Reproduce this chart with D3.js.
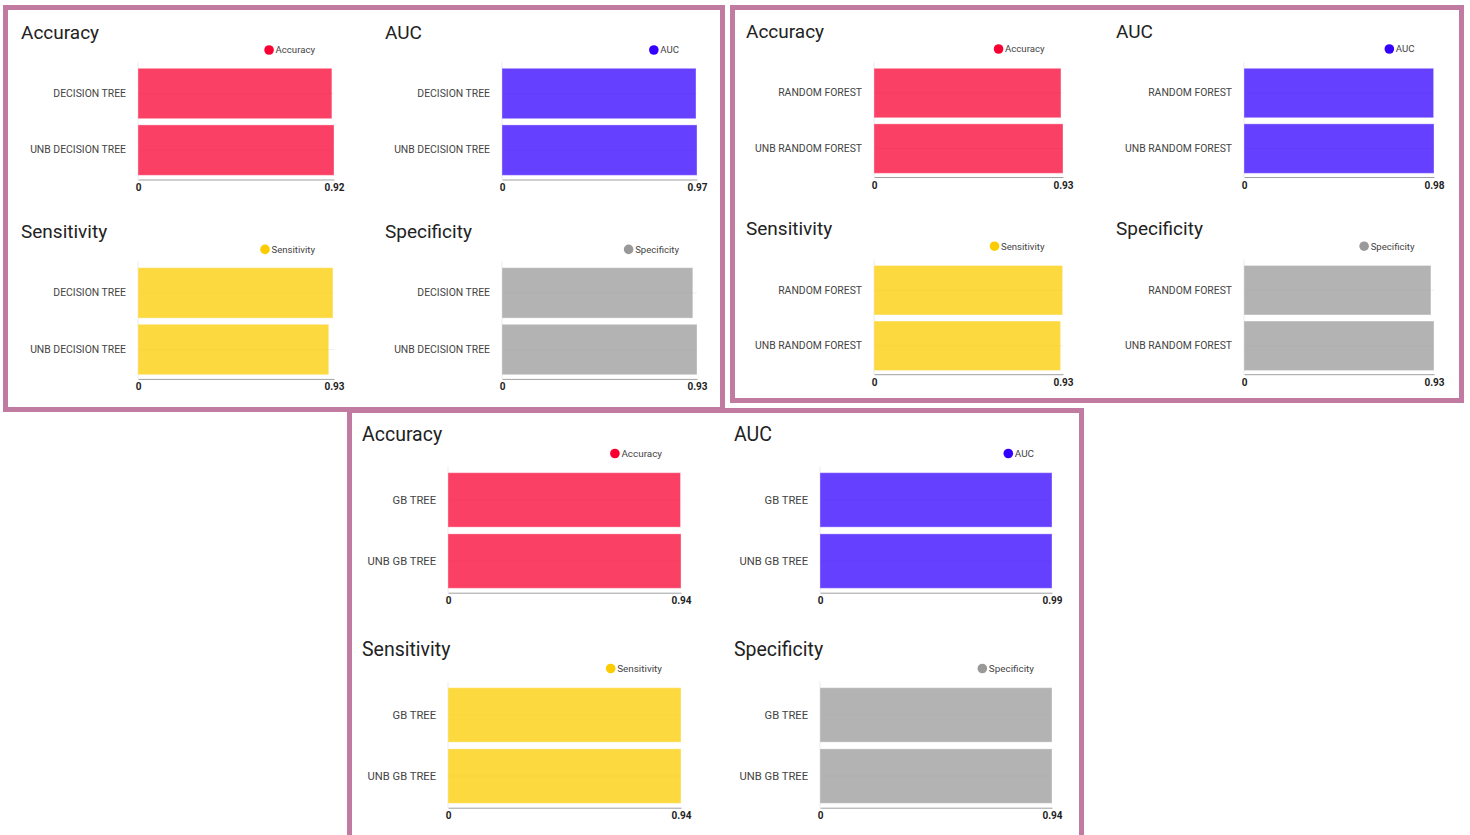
<!DOCTYPE html>
<html>
<head>
<meta charset="utf-8">
<script src="https://cdn.jsdelivr.net/npm/d3@7"></script>
<style>
  html, body { margin: 0; padding: 0; background: #fff; }
  svg { display: block; }
</style>
</head>
<body>
<svg id="chart" width="1470" height="835"></svg>
<script>
// ---- data ----
const metrics = ["Accuracy", "AUC", "Sensitivity", "Specificity"];

const dtModels = ["DECISION TREE", "UNB DECISION TREE"];
const rfModels = ["RANDOM FOREST", "UNB RANDOM FOREST"];
const gbModels = ["GB TREE", "UNB GB TREE"];

// one [base, unbalanced] pair per metric, in the order of `metrics`
const dtScores = [[0.91, 0.92], [0.965, 0.97], [0.925, 0.905], [0.91, 0.93]];
const rfScores = [[0.92, 0.93], [0.978, 0.98], [0.928, 0.918], [0.915, 0.93]];
const gbScores = [[0.938, 0.94], [0.99, 0.99], [0.94, 0.94], [0.94, 0.94]];

// end tick of each metric's value axis
const dtAxisMax = [0.92, 0.97, 0.93, 0.93];
const rfAxisMax = [0.93, 0.98, 0.93, 0.93];
const gbAxisMax = [0.94, 0.99, 0.94, 0.94];

// ---- styles ----
const metricColors = ["#fa0032", "#3300ff", "#fccc00", "#999999"];
const FONT = "Roboto, 'Liberation Sans', Arial, sans-serif";
const FRAME = "#c27ba0";

// ---- layout of the three framed groups ----
const panels = [
  { models: dtModels, scores: dtScores, axisMax: dtAxisMax,
    frame: { x: 3, y: 5, w: 722, h: 407 },
    x0: [138, 502], w: [196, 195], rowDy: 199.4,
    titleDx: -117, titleY: 38.5, legendRight: 177, legendY: 50,
    barTop: 68.3, barBottom: 175.3, axisY: 179.5, tickY: 190.5,
    titleSize: 19, labelSize: 10.4, legendSize: 9.6 },
  { models: rfModels, scores: rfScores, axisMax: rfAxisMax,
    frame: { x: 730, y: 5, w: 734, h: 398 },
    x0: [874, 1244], w: [189, 190], rowDy: 197.2,
    titleDx: -128, titleY: 37.7, legendRight: 170.5, legendY: 49,
    barTop: 68.3, barBottom: 173.3, axisY: 177, tickY: 188.8,
    titleSize: 19, labelSize: 10.4, legendSize: 9.6 },
  { models: gbModels, scores: gbScores, axisMax: gbAxisMax,
    frame: { x: 347, y: 408, w: 737, h: 460 },
    x0: [448, 820], w: [233, 232], rowDy: 215,
    titleDx: -86, titleY: 441, legendRight: 214, legendY: 453.5,
    barTop: 472.7, barBottom: 588.3, axisY: 592.7, tickY: 604.2,
    titleSize: 19.5, labelSize: 11.2, legendSize: 9.9 }
];

const svg = d3.select("#chart").attr("font-family", FONT);

function drawChart(g, p, m) {
  const col = m % 2, row = Math.floor(m / 2);
  const dy = row * p.rowDy;
  const x0 = p.x0[col], x1 = x0 + p.w[col];
  const color = metricColors[m];

  const x = d3.scaleLinear().domain([0, p.axisMax[m]]).range([x0, x1]);
  const y = d3.scaleBand().domain(p.models)
    .range([p.barTop + dy, p.barBottom + dy]).paddingInner(0.11);
  const rows = p.models.map((name, i) => ({ name, value: p.scores[m][i] }));

  // title
  g.append("text")
    .attr("x", x0 + p.titleDx).attr("y", p.titleY + dy)
    .attr("font-size", p.titleSize).attr("fill", "#222")
    .text(metrics[m]);

  // legend
  const lt = g.append("text")
    .attr("x", x0 + p.legendRight).attr("y", p.legendY + dy).attr("dy", "0.35em")
    .attr("text-anchor", "end").attr("font-size", p.legendSize).attr("fill", "#444")
    .text(metrics[m]);
  const tw = lt.node().getComputedTextLength();
  g.append("circle")
    .attr("cx", x0 + p.legendRight - tw - 6.5).attr("cy", p.legendY + dy)
    .attr("r", 4.8).attr("fill", color);

  // faint guides: baseline at zero and one line per category
  g.append("line")
    .attr("x1", x0).attr("x2", x0)
    .attr("y1", p.barTop + dy - 6).attr("y2", p.axisY + dy)
    .attr("stroke", "#ebebeb");
  g.selectAll(null).data(p.models).join("line")
    .attr("x1", x0).attr("x2", x1)
    .attr("y1", d => y(d) + y.bandwidth() / 2).attr("y2", d => y(d) + y.bandwidth() / 2)
    .attr("stroke", "#efefef");

  // bars
  g.selectAll(null).data(rows).join("rect")
    .attr("x", x(0)).attr("y", d => y(d.name))
    .attr("width", d => x(d.value) - x(0)).attr("height", y.bandwidth())
    .attr("fill", color).attr("fill-opacity", 0.75)
    .attr("stroke", "#fff").attr("stroke-opacity", 0.35).attr("stroke-width", 1);

  // category labels
  const ya = g.append("g")
    .attr("transform", `translate(${x0},0)`)
    .call(d3.axisLeft(y).tickSize(0).tickPadding(12));
  ya.attr("font-family", FONT);
  ya.select(".domain").remove();
  ya.selectAll(".tick text").attr("font-size", p.labelSize).attr("fill", "#444");

  // value axis
  const xa = g.append("g")
    .attr("transform", `translate(0,${p.axisY + dy})`)
    .call(d3.axisBottom(x)
      .tickValues([0, p.axisMax[m]])
      .tickFormat(d => d === 0 ? "0" : d3.format(".2f")(d))
      .tickSize(0).tickSizeOuter(0));
  xa.attr("font-family", FONT);
  xa.select(".domain").attr("stroke", "#a0a0a0");
  xa.selectAll(".tick text")
    .attr("y", p.tickY - p.axisY).attr("dy", 0)
    .attr("font-size", 10).attr("font-weight", "bold").attr("fill", "#222");
}

panels.forEach(p => {
  const g = svg.append("g");
  metrics.forEach((_, m) => drawChart(g, p, m));
});

// frames around each group
panels.forEach(p => {
  svg.append("rect")
    .attr("x", p.frame.x + 2.5).attr("y", p.frame.y + 2.5)
    .attr("width", p.frame.w - 5).attr("height", p.frame.h - 5)
    .attr("fill", "none").attr("stroke", FRAME).attr("stroke-width", 5);
});
</script>
</body>
</html>
